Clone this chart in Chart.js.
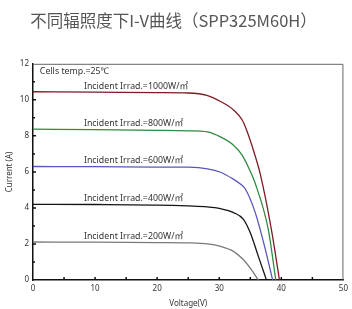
<!DOCTYPE html>
<html>
<head>
<meta charset="utf-8">
<script src="https://cdn.jsdelivr.net/npm/chart.js@4"></script>
<style>
  html, body { margin: 0; padding: 0; background: #fff; }
  #wrap { width: 352px; height: 309px; }
</style>
</head>
<body>
<div id="wrap"><canvas id="ivChart" width="352" height="309"></canvas></div>
<script>
// voltage (V) / current (A) points
const v1000 = [0, 10, 20, 25, 28, 30.2, 32.3, 33.7, 34.4, 35.5, 36.6, 38.4, 39.7];
const i1000 = [10.45, 10.43, 10.4, 10.38, 10.25, 9.91, 9.44, 8.88, 8.32, 7.2, 5.89, 2.8, 0];
const v800 = [0, 10, 20, 25, 28.1, 30.2, 32.3, 33.7, 34.7, 35.7, 37.9, 39.1];
const i800 = [8.37, 8.35, 8.31, 8.28, 8.22, 7.94, 7.48, 6.92, 6.26, 5.45, 2.8, 0];
const v600 = [0, 10, 20, 25, 28.1, 30.2, 32.2, 33.4, 34.2, 35.8, 37.3, 38.6];
const i600 = [6.3, 6.29, 6.27, 6.26, 6.17, 5.98, 5.61, 5.33, 5.05, 3.74, 1.87, 0];
const v400 = [0, 10, 20, 25, 28.1, 30.2, 32.3, 33.9, 35.0, 36.3, 37.6];
const i400 = [4.2, 4.19, 4.16, 4.11, 4.06, 3.96, 3.74, 3.37, 2.62, 1.31, 0];
const v200 = [0, 10, 20, 25, 28.1, 30.2, 32.3, 33.9, 35.2, 36.3];
const i200 = [2.11, 2.1, 2.08, 2.06, 2.0, 1.87, 1.59, 1.12, 0.56, 0];

const irradLabels = ['Incident Irrad.=1000W/㎡', 'Incident Irrad.=800W/㎡', 'Incident Irrad.=600W/㎡',
  'Incident Irrad.=400W/㎡', 'Incident Irrad.=200W/㎡'];
const lineColors = ['#7b1c25', '#2f8a42', '#5a55b8', '#141414', '#7a7a7a'];
const tempLabel = 'Cells temp.=25℃';
const titleText = '不同辐照度下I-V曲线（SPP325M60H）';

function pts(vs, is) {
  return vs.map((v, k) => ({ x: v, y: is[k] }));
}
const series = [pts(v1000, i1000), pts(v800, i800), pts(v600, i600), pts(v400, i400), pts(v200, i200)];

const txt = '#333';
const font = { family: '"Noto Sans", "Noto Sans CJK SC", sans-serif', size: 8 };
const noteFont = '8.8px "Noto Sans", "Noto Sans CJK SC", sans-serif';

// frame, inward ticks and text labels
const decor = {
  id: 'decor',
  afterDraw(chart) {
    const ctx = chart.ctx;
    const a = chart.chartArea;
    const xs = chart.scales.x, ys = chart.scales.y;
    ctx.save();
    ctx.strokeStyle = '#666';
    ctx.lineWidth = 1;
    ctx.beginPath();
    ctx.moveTo(a.left, a.top + 0.5);
    ctx.lineTo(a.right - 0.5, a.top + 0.5);
    ctx.lineTo(a.right - 0.5, a.bottom);
    ctx.stroke();
    ctx.strokeStyle = '#111';
    ctx.lineWidth = 1.5;
    ctx.beginPath();
    for (let v = 1; v < 12; v++) {
      const y = ys.getPixelForValue(v);
      ctx.moveTo(a.left, y);
      ctx.lineTo(a.left + (v % 2 ? 2 : 3), y);
    }
    for (let v = 5; v < 50; v += 5) {
      const x = xs.getPixelForValue(v);
      ctx.moveTo(x, a.bottom);
      ctx.lineTo(x, a.bottom - 3);
    }
    ctx.stroke();
    ctx.fillStyle = txt;
    ctx.font = noteFont;
    ctx.textBaseline = 'alphabetic';
    ctx.textAlign = 'left';
    series.forEach((s, k) => {
      ctx.fillText(irradLabels[k], xs.getPixelForValue(8.2), ys.getPixelForValue(s[0].y) - 3);
    });
    ctx.textBaseline = 'middle';
    ctx.fillText(tempLabel, xs.getPixelForValue(1.1), ys.getPixelForValue(11.55));
    ctx.restore();
  }
};

new Chart(document.getElementById('ivChart'), {
  type: 'line',
  data: {
    datasets: series.map((s, k) => ({
      data: s,
      borderColor: lineColors[k],
      borderWidth: 1.3,
      pointRadius: 0,
      fill: false,
      cubicInterpolationMode: 'monotone'
    }))
  },
  options: {
    responsive: false,
    animation: false,
    layout: { padding: { left: 0, right: 5, top: 0, bottom: 0 } },
    plugins: {
      legend: { display: false },
      tooltip: { enabled: false },
      title: {
        display: true,
        text: titleText,
        color: '#555',
        font: { family: '"Noto Sans CJK SC", sans-serif', size: 16.5, weight: 'normal' },
        padding: { top: 11, bottom: 33 }
      }
    },
    scales: {
      x: {
        type: 'linear',
        min: 0, max: 50,
        ticks: { stepSize: 10, color: txt, font: font, padding: 4, maxRotation: 0 },
        grid: { drawOnChartArea: false, drawTicks: false },
        border: { color: '#111', width: 1.5 },
        title: { display: true, text: 'Voltage(V)', color: txt, font: font, padding: 0 },
        afterFit(s) { s.height = 29; }
      },
      y: {
        min: 0, max: 12,
        ticks: { stepSize: 2, color: txt, font: font, padding: 4 },
        grid: { drawOnChartArea: false, drawTicks: false },
        border: { color: '#111', width: 1.5 },
        title: { display: true, text: 'Current (A)', color: txt, font: font, padding: { top: 5, bottom: 0 } },
        afterFit(s) { s.width = 33; }
      }
    }
  },
  plugins: [decor]
});
</script>
</body>
</html>
